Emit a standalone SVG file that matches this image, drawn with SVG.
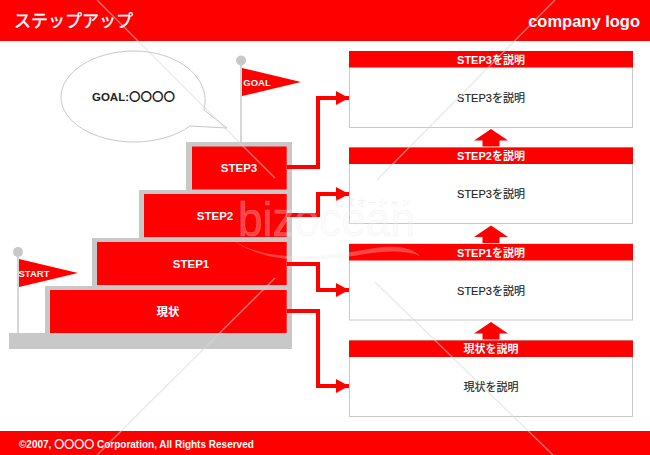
<svg xmlns="http://www.w3.org/2000/svg" width="650" height="455" viewBox="0 0 650 455">
<style>
text{font-family:"Liberation Sans","Noto Sans CJK JP",sans-serif;text-anchor:middle;font-weight:bold}
.red{fill:#ff0000}
.gray{fill:#c8c8c8}
.w{fill:#fff}
.step{font-size:11.5px}
.head{font-size:11px}
.body{font-size:11px;fill:#222;font-weight:normal;stroke:#222;stroke-width:.15px}
.box{fill:#fff;stroke:#c8c8c8;stroke-width:1}
.conn{fill:none;stroke:#ff0000;stroke-width:4}
.wm{stroke:#d8d8d8;stroke-opacity:.5;stroke-width:1.5;fill:none}
</style>
<defs>
<marker id="arr" markerUnits="userSpaceOnUse" markerWidth="14" markerHeight="14" refX="13" refY="7" orient="auto"><path d="M0 0L13 7L0 14Z" fill="#ff0000"/></marker>
</defs>
<rect width="650" height="455" fill="#fff"/>
<g id="header"><rect class="red" width="650" height="41"/>
<text x="14" y="27" class="w" style="text-anchor:start;font-size:17px;font-weight:normal;stroke:#fff;stroke-width:.4">ステップアップ</text>
<text x="640" y="27" class="w" style="text-anchor:end;font-size:16.500px">company logo</text></g>
<g id="footer"><rect class="red" y="431" width="650" height="24"/>
<text x="19" y="448" class="w" style="text-anchor:start;font-size:10px">©2007, 〇〇〇〇 Corporation, All Rights Reserved</text></g>
<g id="stairs">
<path class="gray" d="M9 349V333H45V286H92V238H139V190H186V142H292V349Z"/>
</g>
<g id="step0"><rect class="red" x="50" y="290" width="236.700" height="43"/><text x="168" y="316" class="w step">現状</text></g>
<g id="step1"><rect class="red" x="97" y="242" width="189.700" height="43"/><text x="191" y="268" class="w step">STEP1</text></g>
<g id="step2"><rect class="red" x="144" y="194" width="142.700" height="43"/><text x="215" y="220" class="w step">STEP2</text></g>
<g id="step3"><rect class="red" x="192" y="146.500" width="94.700" height="43"/><text x="239" y="172" class="w step">STEP3</text></g>
<g id="goal-flag"><path d="M241 62V142" stroke="#c8c8c8" stroke-width="1.500"/><circle cx="241" cy="60.500" r="5" class="gray"/><path class="red" d="M242 68L301 82L242 96Z"/><text x="257" y="86" class="w" style="font-size:9.500px">GOAL</text></g>
<g id="start-flag"><path d="M18 254V333" stroke="#c8c8c8" stroke-width="1.500"/><circle cx="18" cy="252" r="5" class="gray"/><path class="red" d="M19 259L78 273L19 287Z"/><text x="34" y="277" class="w" style="font-size:9.500px">START</text></g>
<g id="bubble"><path d="M204 110C212 78 178 51 134 51C94 51 61 72 61 97C61 122 94 142 134 142C156 142 176 136 190 126L227 128Z" fill="#fff" stroke="#c8c8c8" stroke-width="1"/><text x="133.500" y="101" fill="#222" style="font-size:11.500px">GOAL:〇〇〇〇</text></g>
<g id="connectors">
<path class="conn" marker-end="url(#arr)" d="M287 167H318V98H349"/>
<path class="conn" marker-end="url(#arr)" d="M287 215H318V194H349"/>
<path class="conn" marker-end="url(#arr)" d="M287 264H318V290H349"/>
<path class="conn" marker-end="url(#arr)" d="M287 311H318V386H349"/>
<path class="red" d="M491 129L508 140.500H499.500V146.500H482.500V140.500H474Z"/>
<path class="red" d="M491 225.500L508 237H499.500V243H482.500V237H474Z"/>
<path class="red" d="M491 322L508 333.500H499.500V339.500H482.500V333.500H474Z"/>
</g>
<g id="box3"><rect class="box" x="349.500" y="51.500" width="283" height="76"/><rect class="red" x="349" y="51" width="284" height="16.500"/><text x="491" y="64" class="w head">STEP3を説明</text><text x="491" y="102" class="body">STEP3を説明</text></g>
<g id="box2"><rect class="box" x="349.500" y="147.500" width="283" height="76"/><rect class="red" x="349" y="147.500" width="284" height="16.500"/><text x="491" y="160" class="w head">STEP2を説明</text><text x="491" y="198" class="body">STEP3を説明</text></g>
<g id="box1"><rect class="box" x="349.500" y="244" width="283" height="76"/><rect class="red" x="349" y="244" width="284" height="16.500"/><text x="491" y="257" class="w head">STEP1を説明</text><text x="491" y="295" class="body">STEP3を説明</text></g>
<g id="box0"><rect class="box" x="349.500" y="340.500" width="283" height="76"/><rect class="red" x="349" y="340.500" width="284" height="16.500"/><text x="491" y="353" class="w head">現状を説明</text><text x="491" y="391" class="body">現状を説明</text></g>
<g id="watermark">
<path class="wm" d="M97 0L275 178M555 0L377 180M275 278L97 455M375 282L553 455"/>
<text x="238" y="236" textLength="177" lengthAdjust="spacingAndGlyphs" fill="#f4f4f4" fill-opacity=".3" style="text-anchor:start;font-size:48px;font-weight:normal;stroke:#e4e4e4;stroke-opacity:.35;stroke-width:.5">bizocean</text>
<text x="335" y="206" fill="#e4e4e4" fill-opacity=".6" style="text-anchor:start;font-size:9px;font-weight:normal;letter-spacing:2px">ビズオーシャン</text>
<path d="M233 240C270 265 330 256 375 248C395 245 412 247 420 256C405 250 385 251 365 254C320 262 265 265 233 240Z" fill="#e8e8e8" fill-opacity=".3"/>
</g>
</svg>
